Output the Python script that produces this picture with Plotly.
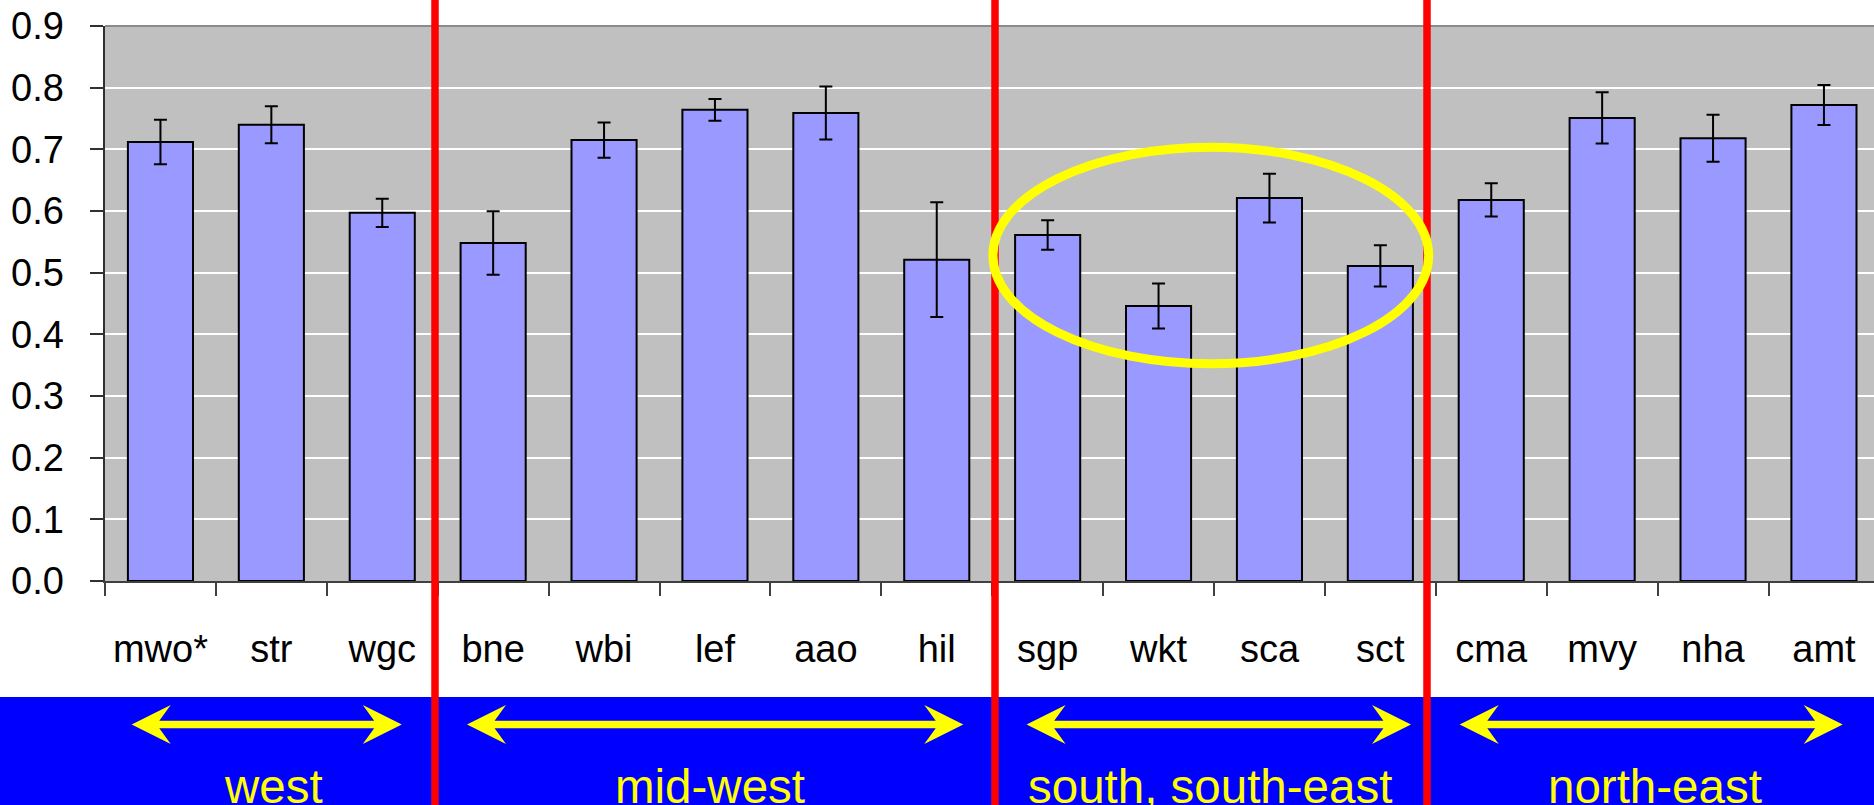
import plotly.graph_objects as go

# ---- data -------------------------------------------------------------
sites = ["mwo*", "str", "wgc", "bne", "wbi", "lef", "aao", "hil",
         "sgp", "wkt", "sca", "sct", "cma", "mvy", "nha", "amt"]
values = [0.712, 0.740, 0.597, 0.548, 0.715, 0.764, 0.759, 0.521,
          0.561, 0.446, 0.621, 0.511, 0.618, 0.751, 0.718, 0.772]
errors = [0.036, 0.030, 0.023, 0.0515, 0.0285, 0.0175, 0.043, 0.093,
          0.024, 0.0365, 0.0395, 0.0335, 0.027, 0.0415, 0.038, 0.0325]
regions = ["west", "mid-west", "south, south-east", "north-east"]
y_ticks = [0.0, 0.1, 0.2, 0.3, 0.4, 0.5, 0.6, 0.7, 0.8, 0.9]

# ---- page geometry (pixels) -------------------------------------------
W, H = 1874, 805
ML, MR, MT, MB = 105, 0, 26, 224
PW, PH = W - ML - MR, H - MT - MB
CAT_PX = 110.9  # width of one category slot


def px(x):
    """figure pixel x -> paper x"""
    return (x - ML) / PW


def py(y):
    """figure pixel y -> paper y"""
    return (H - MB - y) / PH


FONT = "Arial, 'Liberation Sans', Helvetica, sans-serif"

fig = go.Figure()
fig.add_trace(go.Bar(
    x=sites, y=values,
    marker=dict(color="#9999FF", line=dict(color="black", width=2)),
    error_y=dict(type="data", array=errors, color="black",
                 thickness=2, width=6.5),
    showlegend=False,
))

shapes = []

# plot-area top border
shapes.append(dict(type="line", xref="paper", yref="paper",
                   x0=0, x1=1, y0=1, y1=1,
                   line=dict(color="#8a8a8a", width=2), layer="above"))

# blue band holding the region labels
shapes.append(dict(type="rect", xref="paper", yref="paper",
                   x0=px(-5), x1=px(W + 5), y0=py(697), y1=py(H + 5),
                   fillcolor="#0000FF", line=dict(width=0), layer="above"))

# double-headed yellow arrows under each region
arrow_spans = [(131.7, 401.8), (467.0, 963.3), (1026.6, 1411.0), (1459.7, 1842.7)]
yc, head_len, head_half, notch, shaft = 724.5, 39.0, 19.5, 27.6, 3.8
for xl, xr in arrow_spans:
    pts = [
        (xl, yc),
        (xl + head_len, yc - head_half),
        (xl + notch, yc - shaft),
        (xr - notch, yc - shaft),
        (xr - head_len, yc - head_half),
        (xr, yc),
        (xr - head_len, yc + head_half),
        (xr - notch, yc + shaft),
        (xl + notch, yc + shaft),
        (xl + head_len, yc + head_half),
    ]
    path = "M " + " L ".join(f"{px(a):.5f},{py(b):.5f}" for a, b in pts) + " Z"
    shapes.append(dict(type="path", xref="paper", yref="paper", path=path,
                       fillcolor="#FFFF00", line=dict(width=0), layer="above"))

# red dividers between regions
for xdiv in [435.0, 995.0, 1427.0]:
    shapes.append(dict(type="line", xref="paper", yref="paper",
                       x0=px(xdiv), x1=px(xdiv), y0=py(-5), y1=py(H + 5),
                       line=dict(color="#FF0000", width=7.5), layer="above"))

# yellow ellipse around the south / south-east group
shapes.append(dict(type="circle", xref="paper", yref="paper",
                   x0=px(992.9), x1=px(1428.7), y0=py(363.8), y1=py(147.2),
                   line=dict(color="#FFFF00", width=9), layer="above"))

annotations = []
label_centres = [273, 710, 1210, 1655]
for name, cx in zip(regions, label_centres):
    annotations.append(dict(
        text=name, xref="paper", yref="paper",
        x=px(cx), y=py(758), xanchor="center", yanchor="top",
        showarrow=False,
        font=dict(family=FONT, size=47.5, color="#FFFF00"),
    ))

fig.update_layout(
    width=W, height=H, autosize=False,
    margin=dict(l=ML, r=MR, t=MT, b=MB, pad=0),
    paper_bgcolor="white", plot_bgcolor="#C0C0C0",
    bargap=0.413,
    font=dict(family=FONT, color="black"),
    shapes=shapes, annotations=annotations,
    xaxis=dict(
        type="category", categoryorder="array", categoryarray=sites,
        range=[-0.5, -0.5 + PW / CAT_PX],
        tickson="boundaries", ticks="outside", ticklen=13, tickwidth=1.5,
        tickcolor="#404040",
        showline=True, linecolor="#404040", linewidth=2,
        showgrid=False, zeroline=False,
        tickfont=dict(family=FONT, size=38, color="black"),
        ticklabelstandoff=33,
    ),
    yaxis=dict(
        range=[0, 0.9], tickvals=y_ticks, tickformat=".1f",
        ticks="outside", ticklen=13.5, tickwidth=1.5, tickcolor="#303030",
        showline=True, linecolor="#303030", linewidth=2,
        showgrid=True, gridcolor="white", gridwidth=2,
        zeroline=False,
        tickfont=dict(family=FONT, size=38, color="black"),
        ticklabelstandoff=18,
    ),
)

fig.write_html("out.html")
